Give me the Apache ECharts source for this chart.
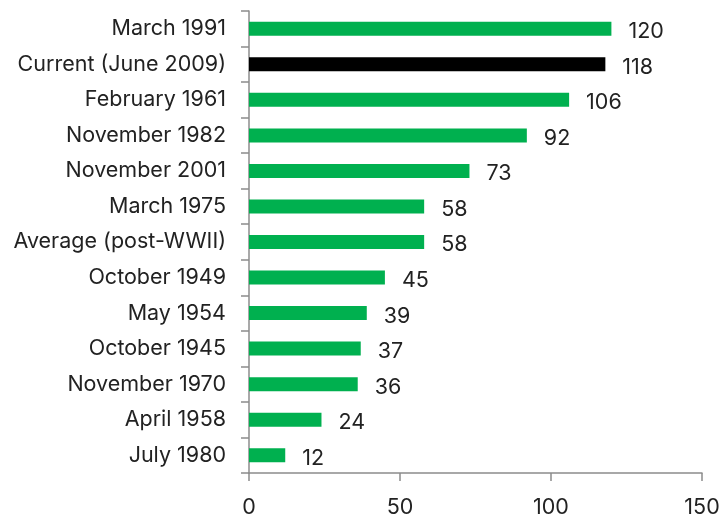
<!DOCTYPE html>
<html><head><meta charset="utf-8">
<script src="https://cdn.jsdelivr.net/npm/echarts@6/dist/echarts.min.js"></script>
<style>html,body{margin:0;padding:0;background:#fff}#c{width:726px;height:516px}</style>
</head><body><div id="c"></div>
<script>
const categories = ["March 1991","Current (June 2009)","February 1961","November 1982","November 2001","March 1975","Average (post-WWII)","October 1949","May 1954","October 1945","November 1970","April 1958","July 1980"];
const values = [120,118,106,92,73,58,58,45,39,37,36,24,12];
const highlight = "Current (June 2009)";
const xTicks = [0,50,100,150];

const chart = echarts.init(document.getElementById('c'));
const font = 'Inter, sans-serif';
chart.setOption({
  animation:false,
  grid:{left:249,right:24,top:11,bottom:43,outerBoundsMode:'none',containLabel:false},
  xAxis:{type:'value',min:xTicks[0],max:xTicks[xTicks.length-1],interval:50,
    splitLine:{show:false},
    axisLine:{show:true,lineStyle:{color:'#8c8c8c',width:1.5}},
    axisTick:{show:true,length:8,lineStyle:{color:'#8c8c8c',width:1.5}},
    axisLabel:{fontSize:21.5,color:'#222',fontFamily:font,margin:24}},
  yAxis:{type:'category',inverse:true,data:categories,
    axisLine:{show:true,lineStyle:{color:'#8c8c8c',width:1.5}},
    axisTick:{show:true,length:8,lineStyle:{color:'#8c8c8c',width:1.5}},
    axisLabel:{fontSize:21.5,color:'#222',fontFamily:font,margin:23}},
  series:[{type:'bar',barWidth:14,
    data:values.map((v,i)=>({value:v,itemStyle:{color:categories[i]===highlight?'#000000':'#00b04f'}})),
    label:{show:true,position:'right',distance:17,fontSize:21.5,color:'#222',fontFamily:font,offset:[0,3]}}]
});
</script></body></html>
